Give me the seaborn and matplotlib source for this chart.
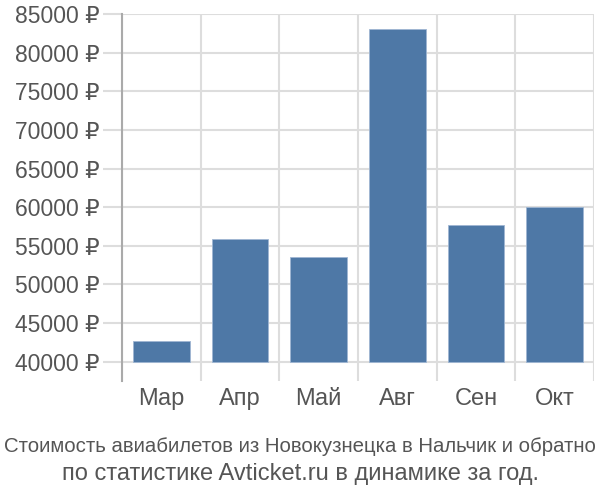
import matplotlib
matplotlib.use("Agg")
import matplotlib.pyplot as plt
import seaborn as sns
import pandas as pd
import numpy as np

months = ["Мар", "Апр", "Май", "Авг", "Сен", "Окт"]
prices = [42720, 55880, 53510, 83060, 57690, 60000]
yticks = [40000, 45000, 50000, 55000, 60000, 65000, 70000, 75000, 80000, 85000]
title_lines = ["Стоимость авиабилетов из Новокузнецка в Нальчик и обратно",
               "по статистике Avticket.ru в динамике за год."]

sns.set_theme(style="white")
plt.rcParams['font.family'] = ['Liberation Sans', 'DejaVu Sans']

df = pd.DataFrame({"month": months, "price": prices})

fig = plt.figure(figsize=(6, 5), dpi=100)
ax = fig.add_axes([122/600, 1-381/500, (594-122)/600, (381-14)/500])

sns.barplot(data=df, x="month", y="price", color="#4e78a6", saturation=1,
            width=0.72, ax=ax, edgecolor="#9fb6d3", linewidth=0.6, zorder=3)

base = 40000
for p in ax.patches:
    h = p.get_height()
    p.set_y(base)
    p.set_height(h - base)

ax.set_ylim(37500, 85000)
ax.set_xlim(-0.5, len(months) - 0.5)
ax.set_yticks(yticks)
ax.set_yticklabels([f"{v} ₽" for v in yticks])
ax.set_xticks(range(len(months)))
ax.set_xticks(np.arange(-0.5, len(months), 1.0), minor=True)
ax.set_xlabel("")
ax.set_ylabel("")

ax.grid(True, axis="y", color="#dddddd", linewidth=1.5, zorder=0)
ax.grid(True, axis="x", which="minor", color="#dddddd", linewidth=1.5, zorder=0)
ax.grid(False, axis="x", which="major")

for s in ["top", "right", "bottom"]:
    ax.spines[s].set_visible(False)
ax.spines["left"].set_color("#aaaaaa")
ax.spines["left"].set_linewidth(1.5)
ax.spines["left"].set_zorder(4)

ax.tick_params(axis="y", which="major", length=14, width=1.5, color="#dddddd",
               labelsize=16.5, labelcolor="#555555", pad=2, left=True)
ax.tick_params(axis="x", which="major", length=0, labelsize=17,
               labelcolor="#555555", pad=5)
ax.tick_params(axis="x", which="minor", length=0)

fig.text(0.5, 1-447/500, title_lines[0], ha="center", va="center",
         fontsize=14.7, color="#555555")
fig.text(0.5, 1-474/500, title_lines[1], ha="center", va="center",
         fontsize=17, color="#555555")

fig.savefig("out.png", dpi=100)
